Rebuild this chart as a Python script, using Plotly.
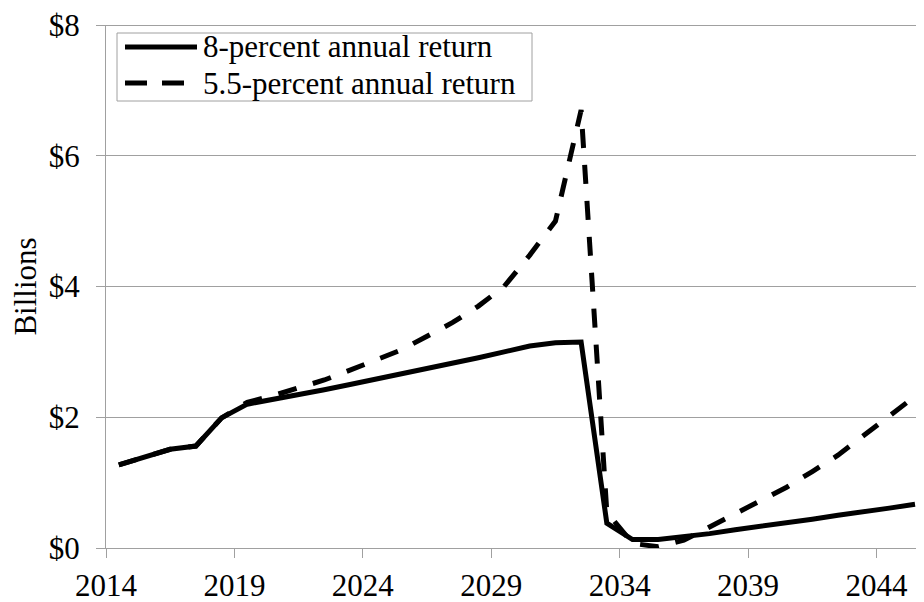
import plotly.graph_objects as go

# Fiscal years (each value plotted at mid-year)
years = list(range(2014, 2046))
tick_years = [2014, 2019, 2024, 2029, 2034, 2039, 2044]
y_ticks = [0, 2, 4, 6, 8]
y_tick_labels = ["$0", "$2", "$4", "$6", "$8"]

# Billions of dollars
return_8pct = [1.27, 1.39, 1.51, 1.56, 1.99, 2.20, 2.27, 2.35, 2.42, 2.50,
               2.58, 2.66, 2.74, 2.82, 2.91, 3.00, 3.09, 3.14, 3.15, 0.38,
               0.13, 0.13, 0.17, 0.22, 0.28, 0.33, 0.39, 0.44, 0.50, 0.55,
               0.61, 0.67]
return_55pct = [1.27, 1.39, 1.51, 1.56, 1.99, 2.23, 2.33, 2.45, 2.57, 2.72,
                2.88, 3.03, 3.24, 3.45, 3.70, 4.00, 4.48, 5.00, 6.70, 0.55,
                0.07, 0.02, 0.12, 0.32, 0.53, 0.72, 0.93, 1.17, 1.42, 1.72,
                2.02, 2.32]
series_names = ["8-percent annual return", "5.5-percent annual return"]

FONT = "Liberation Serif, Times New Roman, serif"
GRAY = "#a0a0a0"
DASH = "19px,17px"
YMAX = 8

xpos = [y + 0.5 for y in years]

fig = go.Figure()
fig.add_trace(go.Scatter(x=xpos, y=return_8pct, mode="lines", name=series_names[0],
                         line=dict(color="black", width=5), showlegend=False))
fig.add_trace(go.Scatter(x=xpos, y=return_55pct, mode="lines", name=series_names[1],
                         line=dict(color="black", width=5, dash=DASH), showlegend=False))

# page body has an 8px margin; figure sized to fill the remaining window
OFF = 8
W, H = 924 - OFF, 602 - OFF
L, R, T = 106 - OFF, 0, 25 - OFF
B = H - (548 - OFF)
pw, ph = W - L - R, H - T - B

def px_x(p):
    return (p - OFF - L) / pw

def px_y(p):
    return (H - B - (p - OFF)) / ph

# top gridline ($8), which sits on the plot's upper edge
fig.add_shape(type="line", xref="paper", yref="paper", x0=0, x1=1,
              y0=px_y(25.5), y1=px_y(25.5),
              line=dict(color=GRAY, width=1), layer="above")

# Legend (drawn box, line samples, labels)
fig.add_shape(type="rect", xref="paper", yref="paper",
              x0=px_x(117), x1=px_x(532), y0=px_y(101), y1=px_y(33),
              line=dict(color=GRAY, width=1), fillcolor="white", layer="above")
rows = [47, 83]
fig.add_shape(type="line", xref="paper", yref="paper",
              x0=px_x(125), x1=px_x(197), y0=px_y(rows[0]), y1=px_y(rows[0]),
              line=dict(color="black", width=5), layer="above")
fig.add_shape(type="line", xref="paper", yref="paper",
              x0=px_x(125), x1=px_x(184), y0=px_y(rows[1]), y1=px_y(rows[1]),
              line=dict(color="black", width=5, dash="22px,15px"), layer="above")
for name, r in zip(series_names, rows):
    fig.add_annotation(text=name, xref="paper", yref="paper",
                       x=px_x(201), y=px_y(r), xanchor="left", yanchor="middle",
                       showarrow=False, font=dict(family=FONT, size=31, color="black"))

fig.update_layout(
    width=W, height=H,
    margin=dict(l=L, r=R, t=T, b=B, autoexpand=False),
    paper_bgcolor="white", plot_bgcolor="white",
    font=dict(family=FONT, size=31, color="black"),
    showlegend=False,
)
fig.update_xaxes(range=[2014, 2045.85], tickvals=tick_years,
                 ticktext=[str(t) for t in tick_years],
                 showgrid=False, zeroline=False, showline=True,
                 linecolor=GRAY, linewidth=1, ticks="outside", ticklen=9,
                 tickcolor=GRAY, ticklabelstandoff=1, ticklabeloverflow="allow",
                 tickfont=dict(family=FONT, size=31, color="black"))
fig.update_yaxes(range=[0, YMAX], tickvals=y_ticks, ticktext=y_tick_labels,
                 showgrid=True, gridcolor=GRAY, gridwidth=1, zeroline=False,
                 showline=True, linecolor=GRAY, linewidth=1, ticks="outside",
                 ticklen=9, tickcolor=GRAY, ticklabelstandoff=10,
                 ticklabeloverflow="allow",
                 tickfont=dict(family=FONT, size=31, color="black"),
                 title=dict(text="Billions", standoff=10,
                            font=dict(family=FONT, size=31, color="black")))

fig.write_html("out.html")
